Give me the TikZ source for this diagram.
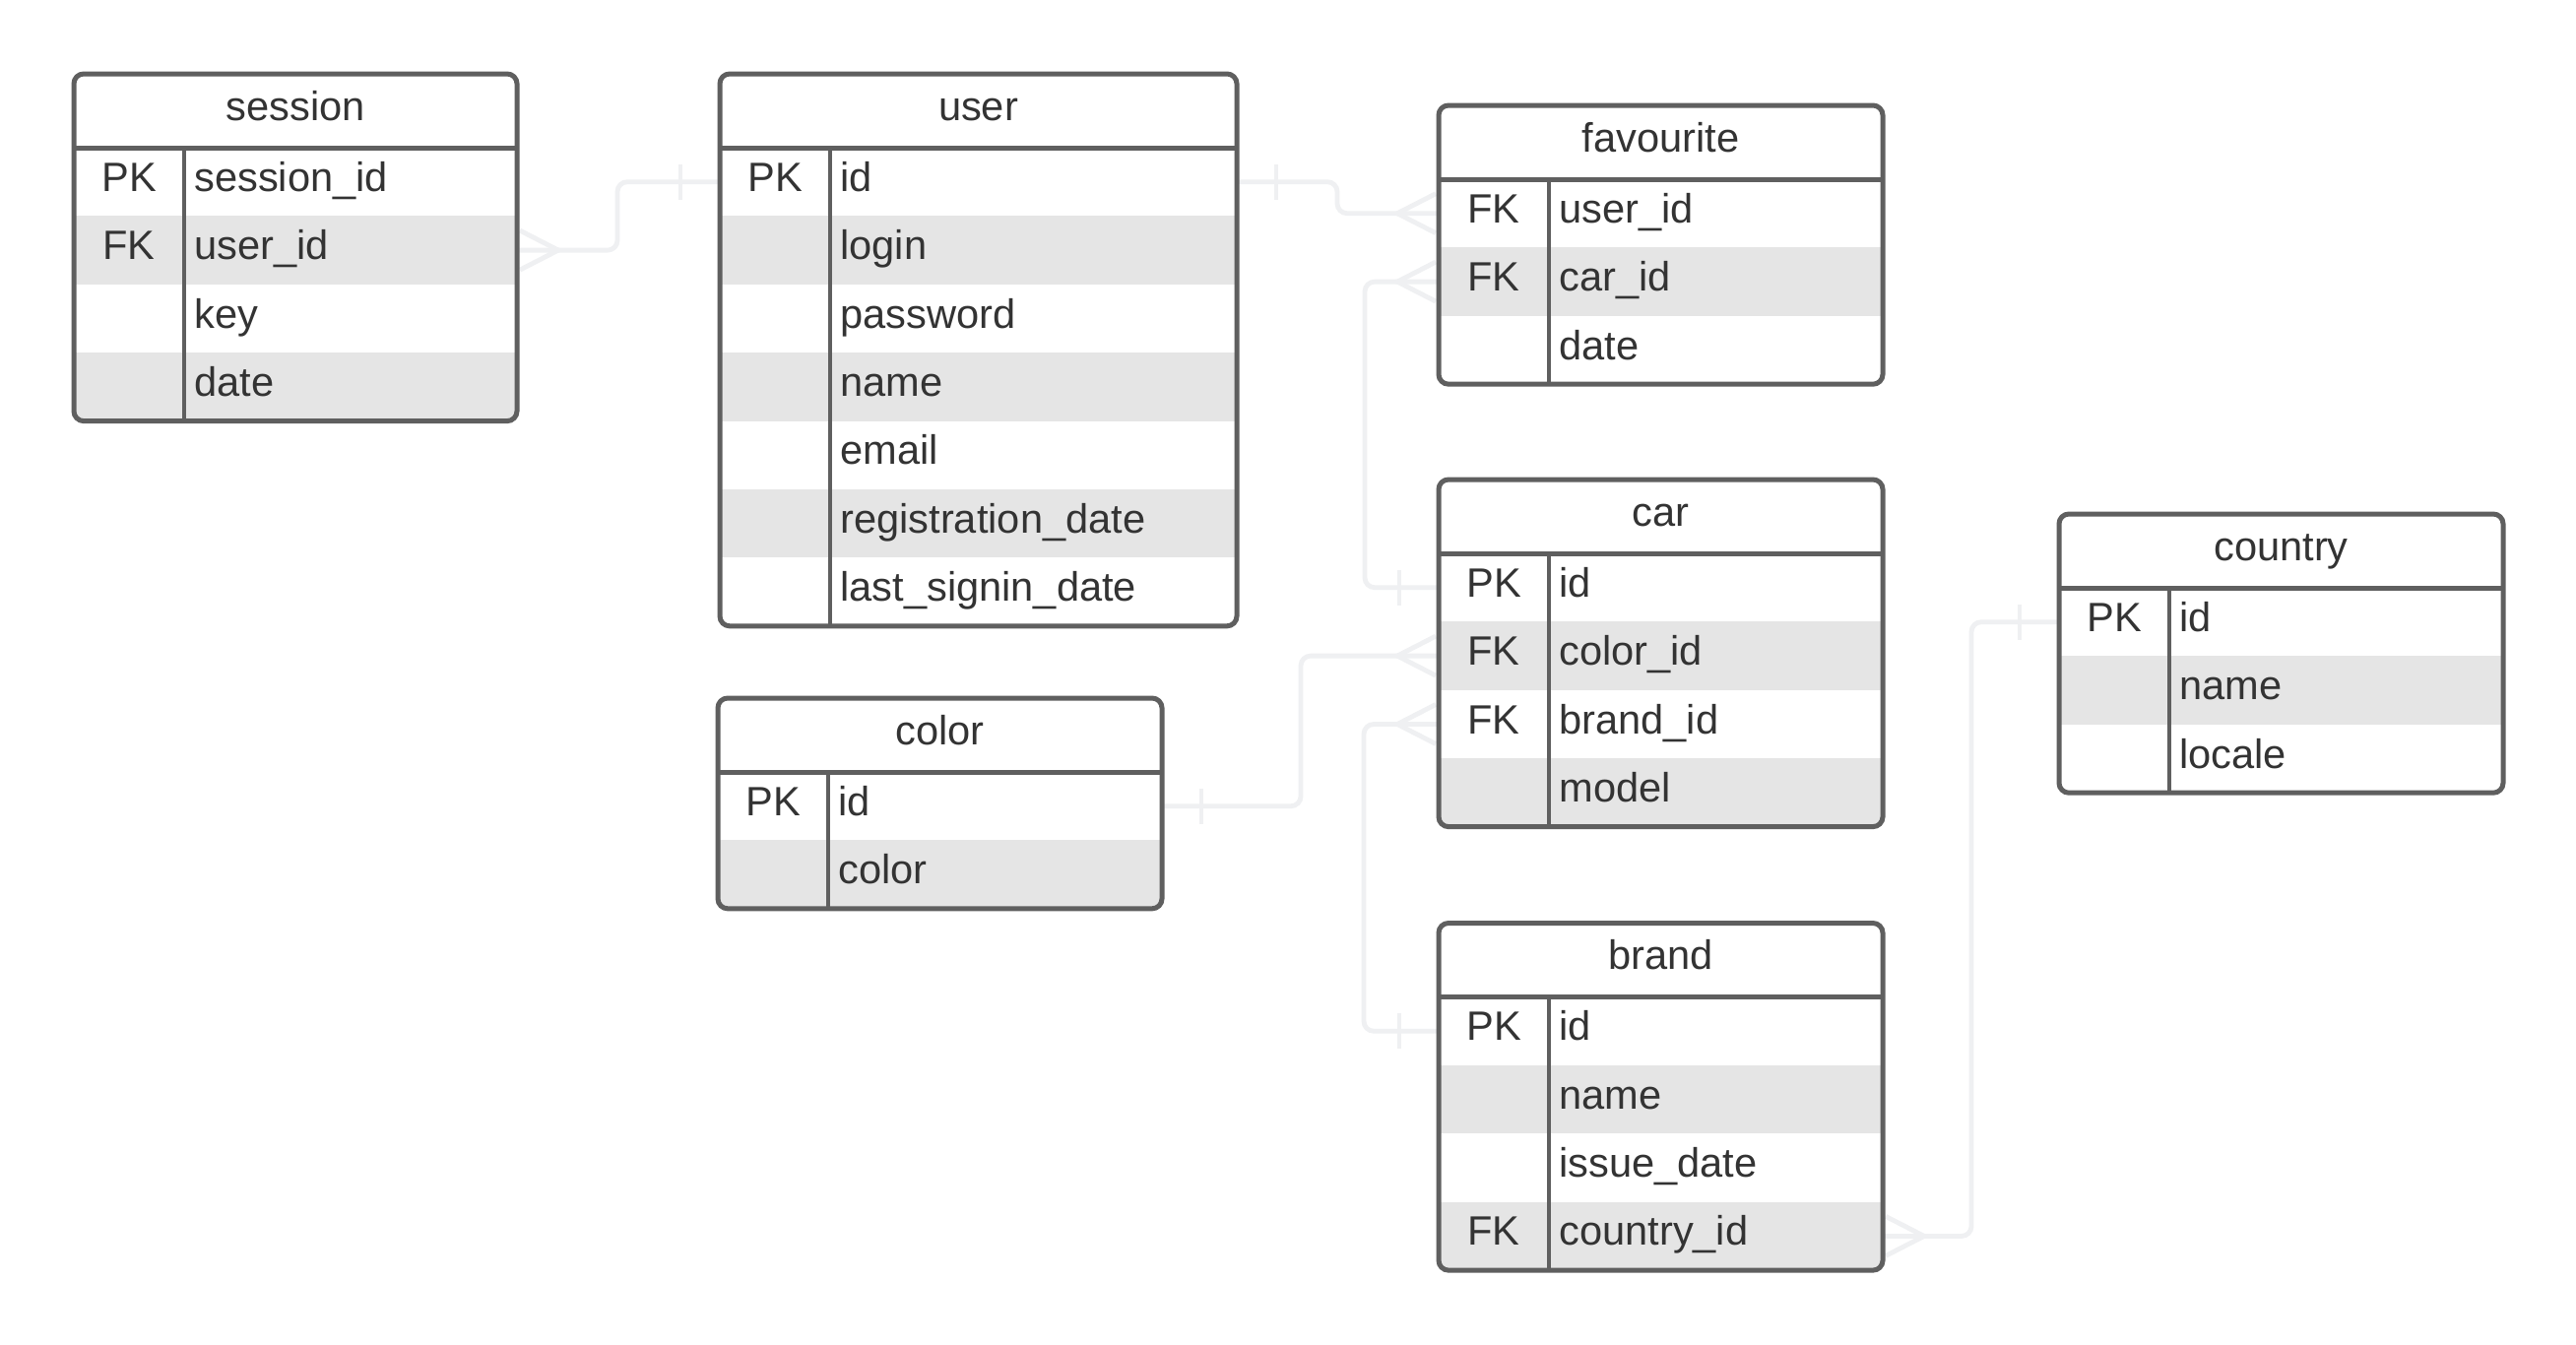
\documentclass[tikz,border=0pt]{standalone}
\usepackage{fontspec}
\setmainfont{Liberation Sans}
\usetikzlibrary{calc,backgrounds}
\definecolor{bord}{HTML}{5F5F5F}
\definecolor{rowg}{HTML}{E5E5E5}
\definecolor{connc}{HTML}{EFF0F2}
\definecolor{txtc}{HTML}{333333}
\tikzset{
  ertxt/.style={font=\fontsize{20.8}{25}\selectfont, text=txtc, inner sep=0pt},
  rowbox/.style={minimum height=34.7pt, inner sep=0pt, outer sep=0pt},
  hdrbox/.style={minimum height=37.5pt, inner sep=0pt, outer sep=0pt},
  tborder/.style={draw=bord, line width=2.5pt, rounded corners=5pt},
  tline/.style={draw=bord, line width=2.5pt},
  tdiv/.style={draw=bord, line width=2pt},
  connline/.style={draw=connc, line width=2.4pt, rounded corners=5pt},
}
% #1 name, #2 x, #3 y, #4 width, #5 title, #6 rows
\newcommand\ertable[6]{%
  \foreach \k/\f [count=\i] in {#6} {\xdef\nrows{\i}}%
  \pgfmathsetmacro\tbot{#3+75+\nrows*69.4}%
  \begin{scope}
    \clip[rounded corners=5pt] (#2,#3) rectangle (#2+#4,\tbot);
    \foreach \k/\f [count=\i] in {#6} {%
      \ifodd\i\relax\else
        \fill[rowg] (#2,#3+75+\i*69.4-69.4) rectangle ++(#4,69.4);
      \fi}
  \end{scope}
  \node[hdrbox, minimum width=#4*0.5pt, anchor=north west] (#1) at (#2,#3) {};
  \node[ertxt, anchor=base] (#1-title) at ($(#1.center)+(0,9.5)$) {#5};
  \foreach \k/\f [count=\i] in {#6} {%
    \node[rowbox, minimum width=#4*0.5pt, anchor=north west] (#1-\i) at (#2,#3+75+\i*69.4-69.4) {};
    \node[ertxt, anchor=base] (#1-\i-key) at ($(#1-\i.west)+(56,9.5)$) {\k};
    \node[ertxt, anchor=base west] (#1-\i-field) at ($(#1-\i.west)+(122,9.5)$) {\f};
  }
  \draw[tborder] (#2,#3) rectangle (#2+#4,\tbot);
  \draw[tline] (#2,#3+75) -- (#2+#4,#3+75);
  \draw[tdiv] (#2+112,#3+75) -- (#2+112,\tbot);
}
% crow's foot: #1 anchor, #2 direction (1 east, -1 west)
\newcommand\crowfoot[2]{%
  \draw[connline, rounded corners=0pt] ($(#1)+(#2*42,0)$) -- ($(#1)+(#2*3,20)$)
    ($(#1)+(#2*42,0)$) -- ($(#1)+(#2*3,-20)$);
}
\newcommand\onebar[2]{%
  \draw[connline, rounded corners=0pt] ($(#1)+(#2*40,-18)$) -- ($(#1)+(#2*40,18)$);
}
\begin{document}
\begin{tikzpicture}[x=0.5pt, y=-0.5pt]
\useasboundingbox (0,0) rectangle (2616,1365);

\ertable{session}{75}{75}{450}{session}{PK/session\_id, FK/user\_id, /key, /date}
\ertable{user}{731}{75}{525}{user}{PK/id, /login, /password, /name, /email, /registration\_date, /last\_signin\_date}
\ertable{favourite}{1461}{107}{451}{favourite}{FK/user\_id, FK/car\_id, /date}
\ertable{car}{1461}{487}{451}{car}{PK/id, FK/color\_id, FK/brand\_id, /model}
\ertable{color}{729}{709}{451}{color}{PK/id, /color}
\ertable{brand}{1461}{937.5}{451}{brand}{PK/id, /name, /issue\_date, FK/country\_id}
\ertable{country}{2091}{522}{451}{country}{PK/id, /name, /locale}

\begin{pgfonlayer}{background}
  \fill[white] (0,0) rectangle (2616,1365);
  % session.user_id -> user.id
  \draw[connline] (session-2.east) -- ++(102,0) |- (user-1.west);
  \crowfoot{session-2.east}{1}
  \onebar{user-1.west}{-1}
  % user.id -> favourite.user_id
  \draw[connline] (user-1.east) -- ++(102,0) |- (favourite-1.west);
  \onebar{user-1.east}{1}
  \crowfoot{favourite-1.west}{-1}
  % car.id -> favourite.car_id
  \draw[connline] (favourite-2.west) -- ++(-75,0) |- (car-1.west);
  \crowfoot{favourite-2.west}{-1}
  \onebar{car-1.west}{-1}
  % color.id -> car.color_id
  \draw[connline] (color-1.east) -- ++(141,0) |- (car-2.west);
  \onebar{color-1.east}{1}
  \crowfoot{car-2.west}{-1}
  % brand.id -> car.brand_id
  \draw[connline] (car-3.west) -- ++(-76,0) |- (brand-1.west);
  \crowfoot{car-3.west}{-1}
  \onebar{brand-1.west}{-1}
  % country.id -> brand.country_id
  \draw[connline] (brand-4.east) -- ++(90,0) |- (country-1.west);
  \crowfoot{brand-4.east}{1}
  \onebar{country-1.west}{-1}
\end{pgfonlayer}
\end{tikzpicture}
\end{document}
